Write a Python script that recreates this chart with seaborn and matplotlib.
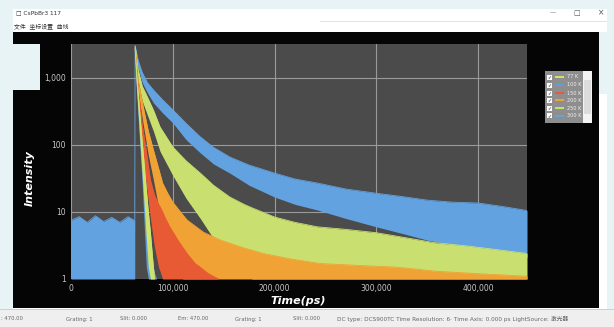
import matplotlib
matplotlib.use("Agg")
import matplotlib.pyplot as plt
from matplotlib.patches import Rectangle
from matplotlib.ticker import FixedLocator, FuncFormatter
import numpy as np
import pandas as pd
import seaborn as sns

# ---- decay traces: time (ps), upper and lower edge of the noisy band (counts) ----
t_300k = [0, 8000, 16000, 24000, 32000, 40000, 48000, 56000, 62000, 62600, 63000, 66000, 70000, 75000, 81000,
          90000, 100000, 113000, 127000, 140000, 156000, 175000, 200000, 220000, 242000, 270000,
          300000, 325000, 350000, 375000, 400000, 425000, 448000]
hi_300k = [7.5, 8.5, 7.0, 8.8, 7.2, 8.3, 7.0, 8.5, 7.5, 7.5, 3000, 1800, 1200, 850, 660,
           470, 334, 210, 132, 92, 66, 50, 38, 31, 27, 22,
           19, 17, 15, 14, 13.6, 12, 10.5]
lo_300k = [1, 1, 1, 1, 1, 1, 1, 1, 1, 1, 2500, 1400, 850, 600, 425,
           300, 213, 120, 76, 52, 38, 25, 16.7, 13, 10.7, 8,
           6, 4.8, 3.8, 3.2, 2.7, 2.3, 2.1]

t_250k = [63000, 66000, 70000, 75000, 81000, 87500, 100000, 113000, 127000, 140000, 156000, 170000,
          178000, 200000, 220000, 242000, 270000, 300000, 330000, 356000, 390000, 422000, 448000]
hi_250k = [3000, 1300, 750, 520, 330, 185, 93, 58, 38, 25, 16.7, 13,
           11.5, 8.4, 7, 6, 5.5, 4.9, 4.1, 3.5, 3.1, 2.7, 2.4]
lo_250k = [2400, 900, 450, 280, 160, 80, 35, 16, 8, 4, 2, 1.2,
           1, 1, 1, 1, 1, 1, 1, 1, 1, 1, 1]

t_200k = [63000, 66000, 71000, 76000, 81000, 86000, 90000, 95000, 100000, 110000, 114000, 130000,
          147000, 170000, 189000, 215000, 245000, 280000, 320000, 360000, 400000, 448000]
hi_200k = [2800, 900, 370, 160, 84, 45, 27, 19, 14, 9, 7.6, 5,
           3.8, 2.9, 2.4, 2.0, 1.7, 1.6, 1.5, 1.3, 1.2, 1.1]
lo_200k = [2200, 600, 200, 70, 30, 12, 6, 3, 1.5, 1, 1, 1,
           1, 1, 1, 1, 1, 1, 1, 1, 1, 1]

t_150k = [63000, 66000, 70000, 74000, 78000, 82000, 86000, 87500, 90000, 92000, 97000, 105000,
          114000, 122000, 127000, 135000, 145000]
hi_150k = [2600, 700, 200, 80, 30, 18, 13, 12, 10, 8.5, 6, 3.8,
           2.4, 1.7, 1.5, 1.2, 1.0]
lo_150k = [2000, 400, 90, 25, 8, 3, 1.5, 1.3, 1, 1, 1, 1,
           1, 1, 1, 1, 1]

t_100k = [63000, 64000, 66000, 68000, 70000, 72000, 74000, 76000, 78000, 80000, 82000, 84000]
hi_100k = [2600, 1300, 500, 200, 80, 35, 15, 7, 3.5, 1.8, 1.2, 1.0]
lo_100k = [2000, 800, 250, 80, 25, 6, 1.5, 1, 1, 1, 1, 1]

t_77k = [63000, 64000, 66000, 68000, 70000, 72000, 74000, 76000, 78000, 80000, 82000]
hi_77k = [2800, 1500, 600, 250, 110, 50, 22, 10, 5, 2.2, 1.0]
lo_77k = [2000, 900, 300, 100, 35, 12, 4, 1.5, 1, 1, 1]

labels = ["77 K", "100 K", "150 K", "200 K", "250 K", "300 K"]
colors = ["#cfe36a", "#5f9ddb", "#e85a34", "#f0a234", "#c9e070", "#62a2e0"]

y_ticks = [1, 10, 100, 1000]
x_ticks = [0, 100000, 200000, 300000, 400000]

traces = {
    "300 K": (t_300k, hi_300k, lo_300k),
    "250 K": (t_250k, hi_250k, lo_250k),
    "200 K": (t_200k, hi_200k, lo_200k),
    "150 K": (t_150k, hi_150k, lo_150k),
    "100 K": (t_100k, hi_100k, lo_100k),
    "77 K": (t_77k, hi_77k, lo_77k),
}

W, H = 614, 327
BG = "#e7f3f4"
sns.set_style("dark")
plt.rcParams["font.family"] = ["DejaVu Sans", "Noto Sans CJK SC"]
fig = plt.figure(figsize=(W / 100, H / 100), dpi=100)
fig.patch.set_facecolor(BG)


def box(x0, y0, x1, y1, color, z=0, **kw):
    """Rectangle given in pixel coordinates from the top-left corner."""
    r = Rectangle((x0 / W, 1 - y1 / H), (x1 - x0) / W, (y1 - y0) / H,
                  transform=fig.transFigure, facecolor=color, edgecolor="none", zorder=z, **kw)
    fig.patches.append(r)
    return r


def txt(x, y, s, **kw):
    fig.text(x / W, 1 - y / H, s, **kw)


# window frame, plotting panel and status bar
box(13, 9, 607, 327, "white", z=0)
box(13, 32, 599, 308, "#050505", z=1)
box(0, 310, 614, 327, "#efefef", z=1)
box(0, 309, 614, 310, "#cfcfcf", z=1)
box(320, 21, 607, 22, "#e2e2e2", z=1)
box(0, 44, 40, 90, BG, z=2)
box(599, 32, 614, 94, BG, z=2)

txt(16, 13, "\u25a1 CsPbBr3 117", fontsize=4.2, color="#333333", va="center")
txt(14, 26, "文件   坐标设置   曲线", fontsize=4.2, color="#333333", va="center",
    family=["Noto Sans CJK SC", "DejaVu Sans"])
txt(553, 13, "—", fontsize=4.5, color="#555555", va="center", ha="center")
txt(577, 13, "□", fontsize=5, color="#555555", va="center", ha="center")
txt(601, 13, "×", fontsize=5.5, color="#555555", va="center", ha="center")

status = [(1, ": 470.00", 3.8), (66, "Grating: 1", 3.8), (120, "Slit: 0.000", 3.8),
          (178, "Em: 470.00", 3.8), (235, "Grating: 1", 3.8), (293, "Slit: 0.000", 3.8),
          (337, "DC type: DCS900TC Time Resolution: 6· Time Axis: 0.000 ps LightSource: 激光器", 4.15)]
for xs, s, fs in status:
    txt(xs, 319, s, fontsize=fs, color="#666666", va="center",
        family=["DejaVu Sans", "Noto Sans CJK SC"])

# main plot axes
ax = fig.add_axes([71 / W, 1 - 279 / H, (527 - 71) / W, (279 - 44) / H], zorder=3)
ax.set_facecolor("#4b4b4b")
ax.set_yscale("log")
ax.set_xlim(0, 448000)
ax.set_ylim(1, 3200)

for name in ["300 K", "250 K", "200 K", "150 K", "100 K", "77 K"]:
    t, hi, lo = traces[name]
    c = colors[labels.index(name)]
    ax.fill_between(t, lo, hi, color=c, linewidth=0, zorder=2)
    d = pd.DataFrame({"t": t, "v": hi})
    sns.lineplot(data=d, x="t", y="v", ax=ax, color=c, linewidth=0.6, zorder=2, legend=False)

ax.set_xlabel("")
ax.set_ylabel("")
ax.yaxis.set_major_locator(FixedLocator(y_ticks))
ax.yaxis.set_minor_locator(FixedLocator([]))
ax.xaxis.set_major_locator(FixedLocator(x_ticks))
ax.yaxis.set_major_formatter(FuncFormatter(lambda v, p: f"{int(v):,}"))
ax.xaxis.set_major_formatter(FuncFormatter(lambda v, p: f"{int(v):,}"))
ax.grid(True, color="#9a9a9a", linewidth=0.8, zorder=1)
ax.set_axisbelow(True)
ax.tick_params(colors="#c8c8c8", labelsize=5.5, length=2, width=0.6, pad=1.5)
for s in ax.spines.values():
    s.set_visible(False)

txt(30, 178, "Intensity", fontsize=8, color="white", fontweight="bold", fontstyle="italic",
    rotation=90, ha="center", va="center", zorder=4)
txt(298, 300.5, "Time(ps)", fontsize=8, color="white", fontweight="bold", fontstyle="italic",
    ha="center", va="center", zorder=4)

# series list with check boxes
box(545, 71, 583, 123, "#8e8e8e", z=4)
box(583, 71, 592, 123, "#f4f4f4", z=4)
box(584, 80, 591, 114, "#dcdcdc", z=4)
rows = [77, 85, 93, 100, 108, 116]
for yy, lab, c in zip(rows, labels, colors):
    box(547, yy - 2.5, 552, yy + 2.5, "white", z=5)
    txt(549.5, yy, "✓", fontsize=3.5, color="#222222", ha="center", va="center", zorder=6)
    box(555, yy - 0.6, 564, yy + 0.6, c, z=5)
    txt(567, yy, lab, fontsize=3.6, color="#f0f0f0", va="center", zorder=6)

fig.savefig("out.png", dpi=100, facecolor=fig.get_facecolor())
